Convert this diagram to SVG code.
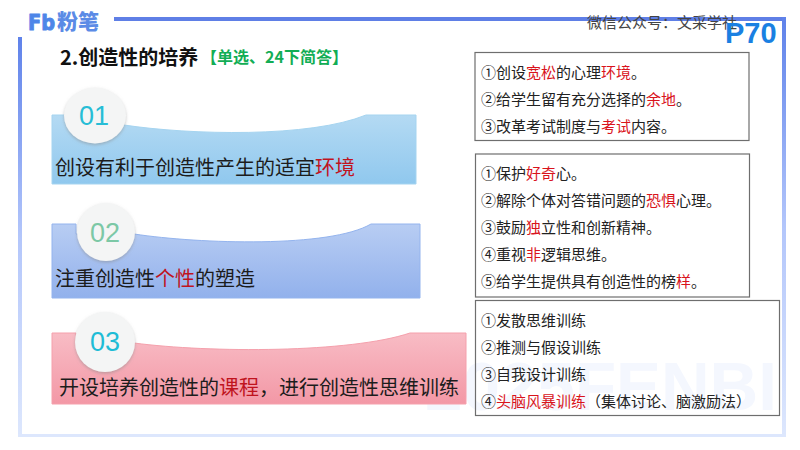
<svg xmlns="http://www.w3.org/2000/svg" width="800" height="450" viewBox="0 0 800 450">
<style>
text{font-family:"Liberation Sans","Noto Sans CJK SC",sans-serif}
.cjk{font-family:"Noto Sans CJK SC",sans-serif}
.b{font-size:20px;fill:#1c1c1c}
.s{font-size:15px;fill:#222}
.r{fill:#d9141c}
.dr{fill:#c0141e}
.box{fill:none;stroke:#6e6e6e;stroke-width:1.2}
.n{font-size:27px;text-anchor:middle}
.c{fill:#f4f5f5;filter:url(#sh)}
</style>
<defs>
<linearGradient id="fv" x1="0" y1="0" x2="0" y2="1"><stop offset="0" stop-color="#5f82ea"/><stop offset="0.5" stop-color="#b3c6fb"/><stop offset="1" stop-color="#dde7fd"/></linearGradient>
<linearGradient id="g1" x1="0" y1="0" x2="0" y2="1"><stop offset="0" stop-color="#b4daf3"/><stop offset="1" stop-color="#90c8ee"/></linearGradient>
<linearGradient id="g2" x1="0" y1="0" x2="0" y2="1"><stop offset="0" stop-color="#b8cdf3"/><stop offset="1" stop-color="#92b1ec"/></linearGradient>
<linearGradient id="g3" x1="0" y1="0" x2="0" y2="1"><stop offset="0" stop-color="#f8bcc5"/><stop offset="1" stop-color="#f398a6"/></linearGradient>
<filter id="sh" x="-20%" y="-20%" width="140%" height="140%"><feDropShadow dx="0" dy="1.5" stdDeviation="1.5" flood-color="#888" flood-opacity="0.5"/></filter>
</defs>
<rect width="800" height="450" fill="#fff"/>
<g id="frame">
<rect x="114" y="17" width="672" height="4" fill="#5f7fe6"/>
<rect x="18" y="37" width="4" height="400" fill="url(#fv)"/>
<rect x="782" y="17" width="4" height="420" fill="url(#fv)"/>
<rect x="18" y="434" width="768" height="3" fill="#dde7fd"/>
</g>
<text x="425" y="410" font-size="68" font-weight="700" fill="#f4f7fe" id="watermark" textLength="352" lengthAdjust="spacingAndGlyphs">2025FENBI</text>
<g id="logo">
<text x="28" y="30" font-size="22" font-weight="700" fill="#4d86e8" stroke="#4d86e8" stroke-width="1" stroke-linejoin="round" style="font-family:'DejaVu Sans',sans-serif" textLength="27" lengthAdjust="spacingAndGlyphs">Fb</text>
<text x="57" y="29" class="cjk" font-size="21" font-weight="900" fill="#5b8be6">粉笔</text>
</g>
<g id="title">
<text x="60" y="65" font-size="20" font-weight="700" fill="#111" class="cjk">2.创造性的培养</text>
<text x="201" y="63" font-size="16" font-weight="700" fill="#12ad55" class="cjk">【单选、24下简答】</text>
</g>
<g id="wechat"><text x="587" y="28" class="cjk" font-size="15" fill="#444">微信公众号：文采学社</text></g>
<g id="page"><text x="725" y="43" font-size="29" font-weight="700" fill="#1a80e2">P70</text></g>

<g id="node-01">
<path d="M52 115H66V125H124C190 135 310 138 366 115H416V184H52Z" fill="url(#g1)" stroke="#a5d4f0"/>
<ellipse class="c" cx="95" cy="115.500" rx="31" ry="28"/>
<text class="n" x="94" y="125" fill="#27bdd6">01</text>
<text class="b cjk" x="55" y="175">创设有利于创造性产生的适宜<tspan class="dr">环境</tspan></text>
</g>
<g id="node-02">
<path d="M52 224H76V234H134C200 244 330 248 371 224H420V298H52Z" fill="url(#g2)" stroke="#94b4ee"/>
<circle class="c" cx="106" cy="232" r="29"/>
<text class="n" x="105" y="242" fill="#7cc8a6">02</text>
<text class="b cjk" x="55" y="286">注重创造性<tspan class="dr">个性</tspan>的塑造</text>
</g>
<g id="node-03">
<path d="M52 333H76V343H134C210 353 350 353 410 333H466V404H52Z" fill="url(#g3)" stroke="#f5a0ac"/>
<circle class="c" cx="105" cy="342" r="30"/>
<text class="n" x="105" y="351" fill="#1fbcd6">03</text>
<text class="b cjk" x="59" y="395">开设培养创造性的<tspan class="dr">课程</tspan>，进行创造性思维训练</text>
</g>

<g id="box-1">
<rect class="box" x="475" y="52.500" width="274" height="88"/>
<text class="s cjk" x="481" y="78">①创设<tspan class="r">宽松</tspan>的心理<tspan class="r">环境</tspan>。</text>
<text class="s cjk" x="481" y="105">②给学生留有充分选择的<tspan class="r">余地</tspan>。</text>
<text class="s cjk" x="481" y="132">③改革考试制度与<tspan class="r">考试</tspan>内容。</text>
</g>
<g id="box-2">
<rect class="box" x="475.500" y="154" width="274" height="143"/>
<text class="s cjk" x="481" y="179">①保护<tspan class="r">好奇</tspan>心。</text>
<text class="s cjk" x="481" y="206">②解除个体对答错问题的<tspan class="r">恐惧</tspan>心理。</text>
<text class="s cjk" x="481" y="233">③鼓励<tspan class="r">独</tspan>立性和创新精神。</text>
<text class="s cjk" x="481" y="260">④重视<tspan class="r">非</tspan>逻辑思维。</text>
<text class="s cjk" x="481" y="287">⑤给学生提供具有创造性的榜<tspan class="r">样</tspan>。</text>
</g>
<g id="box-3">
<rect class="box" x="475.500" y="300.500" width="304" height="115"/>
<text class="s cjk" x="481" y="326">①发散思维训练</text>
<text class="s cjk" x="481" y="353">②推测与假设训练</text>
<text class="s cjk" x="481" y="380">③自我设计训练</text>
<text class="s cjk" x="481" y="407">④<tspan class="r">头脑风暴训练</tspan>（集体讨论、脑激励法）</text>
</g>
</svg>
